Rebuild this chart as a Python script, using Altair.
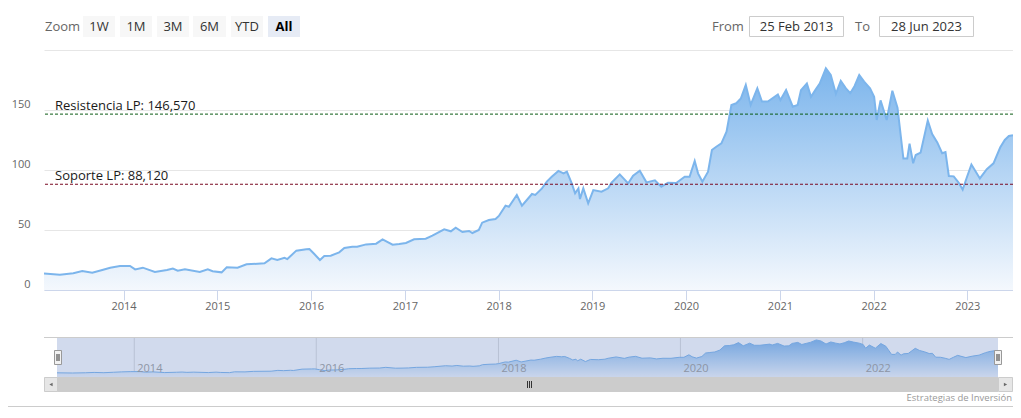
import altair as alt
import pandas as pd

# ---------------- data ----------------
dates = [
    "2013-02-25", "2013-04-28", "2013-06-19", "2013-07-24", "2013-09-01", "2013-10-10", "2013-11-10", "2013-12-18",
    "2014-01-26", "2014-02-15", "2014-03-17", "2014-05-03", "2014-06-19", "2014-07-12", "2014-07-31", "2014-08-28",
    "2014-10-25", "2014-11-25", "2014-12-14",
    "2015-01-18", "2015-02-07", "2015-03-21", "2015-04-25", "2015-07-04", "2015-07-31", "2015-08-23", "2015-09-20",
    "2015-10-01", "2015-11-05", "2015-12-14", "2015-12-26",
    "2016-01-14", "2016-02-05", "2016-02-22", "2016-03-18", "2016-04-20", "2016-05-10", "2016-06-10", "2016-06-29",
    "2016-08-03", "2016-09-11", "2016-10-06", "2016-11-14", "2016-12-10",
    "2017-01-05", "2017-02-06", "2017-03-23", "2017-04-18", "2017-06-03", "2017-06-29", "2017-07-18", "2017-08-13",
    "2017-09-08", "2017-09-21", "2017-10-16", "2017-10-29", "2017-11-24", "2017-12-20",
    "2018-01-02", "2018-01-28", "2018-02-10", "2018-03-13", "2018-04-02", "2018-04-21", "2018-05-11", "2018-05-24",
    "2018-06-19", "2018-07-08", "2018-07-27", "2018-08-22", "2018-09-11", "2018-09-24", "2018-10-13", "2018-10-26",
    "2018-11-08", "2018-11-14", "2018-11-27", "2018-12-16",
    "2019-01-05", "2019-02-06", "2019-03-04", "2019-03-17", "2019-04-18", "2019-05-21", "2019-06-09", "2019-07-05",
    "2019-07-31", "2019-09-02", "2019-09-27", "2019-10-23", "2019-11-24", "2019-12-27",
    "2020-01-15", "2020-02-04", "2020-02-17", "2020-03-05", "2020-03-27", "2020-04-11", "2020-04-28", "2020-05-18",
    "2020-06-07", "2020-06-26", "2020-07-15", "2020-08-02", "2020-08-21", "2020-09-09", "2020-10-05", "2020-10-23",
    "2020-11-15", "2020-12-24",
    "2021-01-03", "2021-01-25", "2021-02-20", "2021-03-11", "2021-03-24", "2021-04-16", "2021-05-02", "2021-05-20",
    "2021-06-05", "2021-06-29", "2021-07-18", "2021-08-07", "2021-08-26", "2021-09-15", "2021-10-02", "2021-10-19",
    "2021-11-06", "2021-11-25", "2021-12-18",
    "2022-01-03", "2022-01-13", "2022-01-28", "2022-02-21", "2022-03-15", "2022-04-04", "2022-04-27", "2022-05-12",
    "2022-05-21", "2022-06-04", "2022-06-14", "2022-07-03", "2022-07-31", "2022-08-17", "2022-09-06", "2022-09-25",
    "2022-10-08", "2022-10-21", "2022-11-09", "2022-11-28", "2022-12-14", "2022-12-31",
    "2023-01-17", "2023-02-19", "2023-03-18", "2023-04-13", "2023-05-09", "2023-05-27", "2023-06-12", "2023-06-28",
]
values = [
    13.8, 12.8, 14.0, 15.8, 14.4, 16.7, 18.6, 20.0,
    20.0, 17.2, 18.6, 15.0, 16.7, 17.8, 16.1, 17.2, 15.0, 17.2, 15.6,
    14.7, 18.9, 18.6, 21.4, 22.2, 26.4, 25.0, 26.9, 25.8, 32.8, 33.9, 34.2,
    30.0, 25.0, 28.3, 28.6, 31.4, 35.0, 36.1, 36.1, 38.0, 38.6, 42.2, 37.8, 38.3,
    39.2, 42.2, 42.8, 45.3, 50.6, 48.9, 51.9, 48.3, 49.2, 47.5, 50.0, 56.1, 58.3, 59.2,
    61.7, 70.3, 69.4, 79.2, 70.3, 75.0, 80.0, 79.2, 84.7, 90.3, 94.4, 99.2, 97.2, 98.6, 88.9, 80.6,
    84.7, 75.8, 84.7, 72.2,
    83.3, 81.9, 84.7, 89.4, 96.4, 88.9, 95.3, 99.4, 89.7, 91.4, 86.1, 89.4, 89.2, 94.4,
    94.4, 107.5, 97.2, 90.3, 98.6, 116.7, 119.4, 122.2, 131.9, 154.2, 155.6, 159.7, 170.8, 154.2, 168.0, 157.0,
    157.0, 163.0,
    158.3, 166.7, 152.8, 154.2, 166.5, 172.0, 161.0, 167.0, 172.0, 184.7, 179.2, 163.5, 174.2, 168.0, 164.0, 170.0,
    179.2, 173.6, 168.0,
    161.0, 141.7, 158.0, 141.7, 166.0, 152.0, 109.5, 109.5, 122.0, 105.6, 112.5, 114.5, 141.2, 130.0, 123.0, 114.0,
    115.0, 95.0, 94.7, 89.5, 83.6, 94.4,
    104.5, 93.0, 100.7, 105.6, 118.7, 125.0, 128.3, 129.0,
]

level_values = [146.57, 88.12]
level_labels = ["Resistencia LP: 146,570", "Soporte LP: 88,120"]
level_colors = ["#0b5a14", "#7a0a22"]

y_ticks = [0, 50, 100, 150, 200]
x_tick_years = [2014, 2015, 2016, 2017, 2018, 2019, 2020, 2021, 2022, 2023]
nav_dates = ["2014-01-01", "2016-01-01", "2018-01-01", "2020-01-01", "2022-01-01"]
nav_labels = ["2014", "2016", "2018", "2020", "2022"]
zoom_buttons = ["1W", "1M", "3M", "6M", "YTD", "All"]
selected_button = "All"
range_from = "25 Feb 2013"
range_to = "28 Jun 2023"
credit_text = "Estrategias de Inversión"

# ---------------- layout ----------------
FONT = "Open Sans"
W, H = 969, 240
PADL, PADT = 36, 42
OX, OY = 44, 50  # page position of plot origin


def px(x):
    return x - OX


def py(y):
    return y - OY


df = pd.DataFrame({"date": dates, "value": values})
one = pd.DataFrame({"k": [0]})

start = alt.DateTime(year=2013, month=2, date=25, utc=True)
end = alt.DateTime(year=2023, month=6, date=28, utc=True)

x_main = alt.X(
    "date:T",
    title=None,
    scale=alt.Scale(type="utc", domain=[start, end]),
    axis=alt.Axis(
        values=[alt.DateTime(year=y, month=1, date=1, utc=True) for y in x_tick_years],
        labelExpr="utcFormat(datum.value, '%Y')",
        grid=False,
        domainColor="#ccd6eb",
        tickColor="#ccd6eb",
        tickSize=10,
        labelPadding=0,
        labelFont=FONT,
        labelFontSize=11,
        labelColor="#666666",
        labelFlush=False,
        labelOverlap=False,
    ),
)
y_main = alt.Y(
    "value:Q",
    title=None,
    scale=alt.Scale(domain=[0, 200], nice=False, zero=True),
    axis=alt.Axis(
        values=y_ticks,
        labelExpr="datum.value == 200 ? '' : datum.label",
        grid=True,
        gridColor="#e6e6e6",
        domain=False,
        ticks=False,
        labelPadding=14,
        labelOffset=-6,
        labelFont=FONT,
        labelFontSize=11,
        labelColor="#666666",
    ),
)

grad = alt.Gradient(
    gradient="linear",
    stops=[alt.GradientStop(color="#f4f8fd", offset=0), alt.GradientStop(color="#7cb5ec", offset=1)],
    x1=1, x2=1, y1=1, y2=0,
)

base = alt.Chart(df)
main_area = base.mark_area(color=grad).encode(x=x_main, y=y_main)
main_line = base.mark_line(color="#7cb5ec", strokeWidth=2).encode(x=x_main, y=y_main)

level_layers = []
for val, lab, col in zip(level_values, level_labels, level_colors):
    ldf = pd.DataFrame({"value": [val], "label": [lab]})
    level_layers.append(
        alt.Chart(ldf).mark_rule(color=col, strokeDash=[3, 2], strokeWidth=1).encode(y=y_main)
    )
    level_layers.append(
        alt.Chart(ldf).mark_text(align="left", baseline="bottom", dy=-1, font=FONT, fontSize=13, color="#1a1a1a")
        .encode(x=alt.value(11), y=y_main, text="label:N")
    )

main_layer = alt.layer(main_area, main_line, *level_layers)

# ---------------- navigator ----------------
nav_x = alt.X("date:T", title=None, axis=None,
              scale=alt.Scale(type="utc", domain=[start, end], range=[px(57), px(998)]))
nav_y = alt.Y("value:Q", title=None, axis=None,
              scale=alt.Scale(domain=[-8, 200], range=[py(377), py(337)], nice=False, zero=False))

nav_df = pd.DataFrame({"date": nav_dates, "label": nav_labels})
nav_grid = alt.Chart(nav_df).mark_rule(color="#dcdcdc", strokeWidth=1).encode(
    x=nav_x, y=alt.value(py(337)), y2=alt.value(py(377)))
nav_area = base.mark_area(color=grad).encode(x=nav_x, y=nav_y, y2=alt.datum(-8))
nav_line = base.mark_line(color="#7cb5ec", strokeWidth=1).encode(x=nav_x, y=nav_y)
nav_mask = alt.Chart(one).mark_rect(fill="rgba(102,133,194,0.3)").encode(
    x=alt.value(px(57)), x2=alt.value(px(998)), y=alt.value(py(337)), y2=alt.value(py(377)))
nav_text = alt.Chart(nav_df).mark_text(align="left", baseline="middle", dx=3, font=FONT, fontSize=11,
                                       color="#8d95a5").encode(x=nav_x, y=alt.value(py(369)), text="label:N")
nav_layer = alt.layer(nav_grid, nav_area, nav_line, nav_mask, nav_text)


# ---------------- chrome helpers ----------------
def rect(x0, y0, x1, y1, fill, stroke=None, sw=1):
    kw = dict(fill=fill)
    if stroke:
        kw.update(stroke=stroke, strokeWidth=sw)
    return alt.Chart(one).mark_rect(**kw).encode(
        x=alt.value(px(x0)), x2=alt.value(px(x1)), y=alt.value(py(y0)), y2=alt.value(py(y1)))


def hline(x0, x1, y, color):
    return alt.Chart(one).mark_rule(color=color, strokeWidth=1).encode(
        x=alt.value(px(x0)), x2=alt.value(px(x1)), y=alt.value(py(y)))


def vline(x, y0, y1, color):
    return alt.Chart(one).mark_rule(color=color, strokeWidth=1).encode(
        x=alt.value(px(x)), y=alt.value(py(y0)), y2=alt.value(py(y1)))


def label(x, y, s, size=13, color="#333333", align="left", weight="normal", baseline="middle"):
    return alt.Chart(one).mark_text(text=s, font=FONT, fontSize=size, color=color, align=align,
                                    baseline=baseline, fontWeight=weight).encode(
        x=alt.value(px(x)), y=alt.value(py(y)))


chrome = []
chrome.append(label(45, 27, "Zoom", color="#666666"))
spans = [(83, 115), (120, 152), (157, 189), (193, 226), (231, 263), (268, 300)]
for b, (x0, x1) in zip(zoom_buttons, spans):
    sel = b == selected_button
    chrome.append(rect(x0, 16, x1, 37, "#e6ebf5" if sel else "#f7f7f7"))
    chrome.append(label((x0 + x1) / 2, 27, b, color="#000000" if sel else "#333333", align="center",
                        weight="bold" if sel else "normal"))
chrome.append(label(712, 27, "From", color="#666666"))
chrome.append(rect(749.5, 16.5, 843.5, 36.5, "#ffffff", "#cccccc"))
chrome.append(label(796.5, 27, range_from, color="#333333", align="center"))
chrome.append(label(855, 27, "To", color="#666666"))
chrome.append(rect(879.5, 16.5, 973.5, 36.5, "#ffffff", "#cccccc"))
chrome.append(label(926.5, 27, range_to, color="#333333", align="center"))

# navigator outline + scrollbar
chrome.append(hline(44, 1013, 337.5, "#cccccc"))
chrome.append(rect(44, 377, 1013, 392, "#f2f2f2"))
chrome.append(rect(57, 377, 998, 392, "#cccccc"))
chrome.append(rect(44.5, 377.5, 57.5, 391.5, "#e6e6e6", "#cccccc"))
chrome.append(rect(998.5, 377.5, 1012.5, 391.5, "#e6e6e6", "#cccccc"))
chrome.append(alt.Chart(one).mark_point(shape="triangle-left", filled=True, size=14, color="#333333").encode(
    x=alt.value(px(51)), y=alt.value(py(384.5))))
chrome.append(alt.Chart(one).mark_point(shape="triangle-right", filled=True, size=14, color="#333333").encode(
    x=alt.value(px(1005.5)), y=alt.value(py(384.5))))
for gx in (527.5, 529.5, 531.5):
    chrome.append(vline(gx, 381, 388, "#333333"))
# handles
for hx in (54.5, 994.5):
    chrome.append(rect(hx, 350.5, hx + 7, 364.5, "#f2f2f2", "#999999"))
    chrome.append(vline(hx + 2.5, 354, 361, "#333333"))
    chrome.append(vline(hx + 4.5, 354, 361, "#333333"))

chrome.append(label(1012, 398, credit_text, size=9.5, color="#999999", align="right"))
chrome.append(hline(8, 1013, 406.5, "#cccccc"))

chart = (
    alt.layer(main_layer, nav_layer, *chrome)
    .resolve_scale(x="independent", y="independent")
    .properties(
        width=W,
        height=H,
        padding={"left": PADL, "top": PADT, "right": 0, "bottom": 118},
        autosize=alt.AutoSizeParams(type="none"),
        background="white",
    )
    .configure_view(stroke=None)
)

chart.save("out.html", embed_options={"renderer": "svg", "actions": False})
